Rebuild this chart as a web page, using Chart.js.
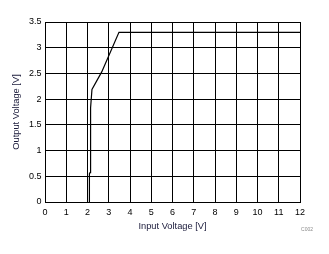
<!DOCTYPE html>
<html>
<head>
<meta charset="utf-8">
<script src="https://cdn.jsdelivr.net/npm/chart.js@4/dist/chart.umd.min.js"></script>
<style>
html, body { margin:0; padding:0; background:#fff; }
#wrap { width:329px; height:254px; }
</style>
</head>
<body>
<div id="wrap"><canvas id="chartVout"></canvas></div>
<script>

/*
==========================================
DATOS
==========================================
*/

const inputVoltage  = [2.08, 2.09, 2.12, 2.14, 2.15, 2.21, 2.67, 3.48, 12];
const outputVoltage = [0,    0.55, 0.57, 1.8,  1.83, 2.19, 2.53, 3.3,  3.3];

const xTicks = [0,1,2,3,4,5,6,7,8,9,10,11,12];
const yTicks = [0,0.5,1,1.5,2,2.5,3,3.5];

const xTitle = "Input Voltage [V]";
const yTitle = "Output Voltage [V]";
const figTag = "C002";

const points = inputVoltage.map((x,i) => ({ x:x, y:outputVoltage[i] }));

/*
==========================================
ETIQUETA C002
==========================================
*/

const tagPlugin = {
    id:"tag",
    afterDraw(chart){
        const ctx = chart.ctx;
        ctx.save();
        ctx.font = "5px 'Liberation Sans', Arial, sans-serif";
        ctx.fillStyle = "#8a8a8a";
        ctx.textAlign = "right";
        ctx.textBaseline = "middle";
        ctx.fillText(figTag, 313, 230);
        ctx.restore();
    }
};

/*
==========================================
GRAFICA
==========================================
*/

const fontFam = "'Liberation Sans', Arial, sans-serif";

new Chart(
    document.getElementById("chartVout"),
    {
        type:"scatter",
        data:{
            datasets:[{
                data:points,
                showLine:true,
                borderColor:"#000",
                borderWidth:1.2,
                pointRadius:0,
                tension:0
            }]
        },
        options:{
            responsive:true,
            maintainAspectRatio:false,
            animation:false,
            layout:{ padding:{ left:0, right:29, top:22, bottom:0 } },
            plugins:{
                legend:{ display:false },
                tooltip:{ enabled:false }
            },
            scales:{
                x:{
                    type:"linear",
                    min:0,
                    max:12,
                    afterBuildTicks(axis){ axis.ticks = xTicks.map(v => ({ value:v })); },
                    afterFit(axis){ axis.height = 52; },
                    grid:{ color:"#000", lineWidth:1, drawTicks:false },
                    border:{ color:"#000", width:1 },
                    ticks:{
                        color:"#000",
                        padding:5,
                        maxRotation:0,
                        font:{ family:fontFam, size:9 },
                        callback:(v) => String(v)
                    },
                    title:{
                        display:true,
                        text:xTitle,
                        color:"#1a1a3a",
                        font:{ family:fontFam, size:9.3 },
                        padding:{ top:0, bottom:22 }
                    }
                },
                y:{
                    type:"linear",
                    min:0,
                    max:3.5,
                    afterBuildTicks(axis){ axis.ticks = yTicks.map(v => ({ value:v })); },
                    afterFit(axis){ axis.width = 45; },
                    grid:{ color:"#000", lineWidth:1, drawTicks:false },
                    border:{ color:"#000", width:1 },
                    ticks:{
                        color:"#000",
                        padding:3.5,
                        font:{ family:fontFam, size:9 },
                        callback:(v) => String(v)
                    },
                    title:{
                        display:true,
                        text:yTitle,
                        color:"#1a1a3a",
                        font:{ family:fontFam, size:9.3 },
                        padding:{ top:11, bottom:0 }
                    }
                }
            }
        },
        plugins:[tagPlugin]
    }
);

</script>
</body>
</html>
